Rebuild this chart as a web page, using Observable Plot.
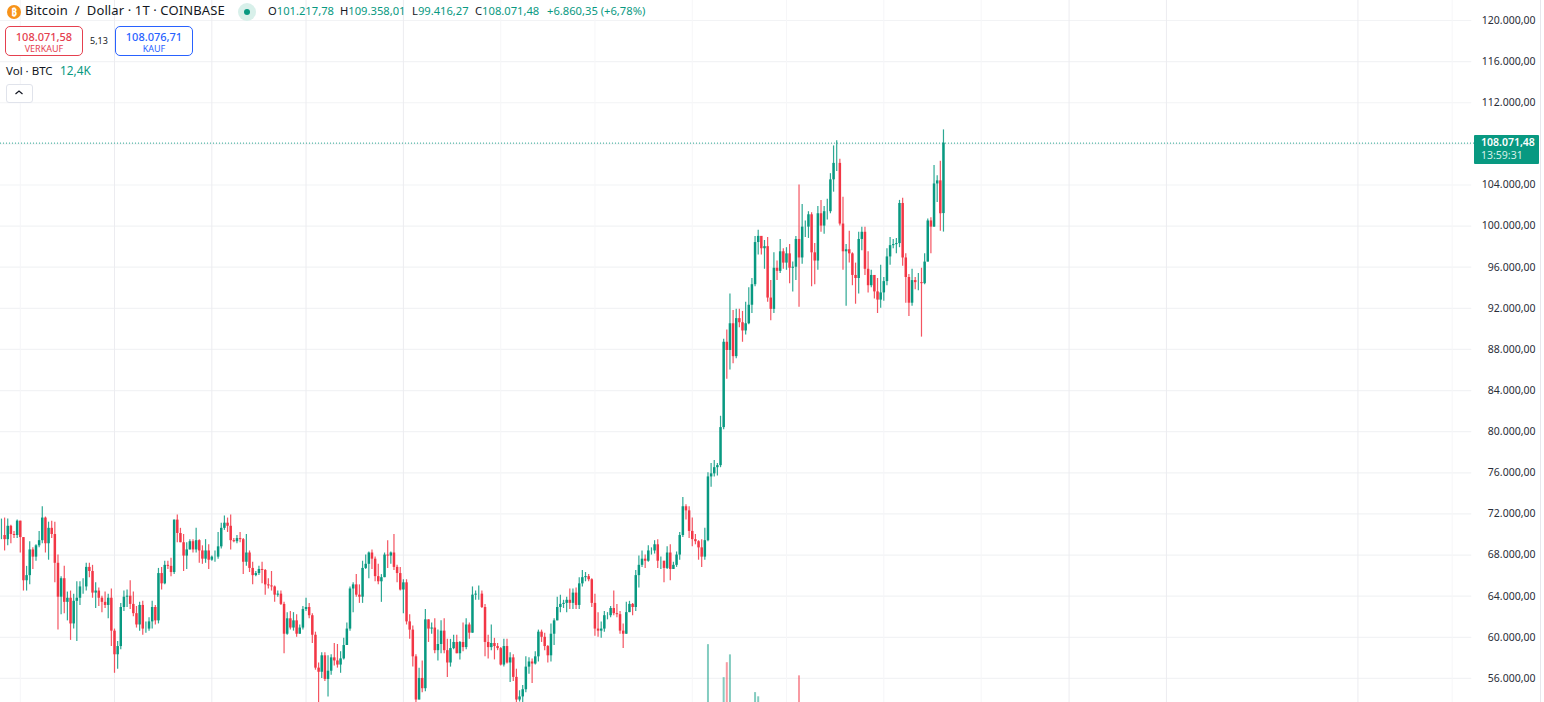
<!doctype html>
<html><head><meta charset="utf-8">
<script src="https://cdn.jsdelivr.net/npm/d3@7"></script>
<script src="https://cdn.jsdelivr.net/npm/@observablehq/plot@0.6"></script>
<style>
html,body{margin:0;padding:0;background:#fff;overflow:hidden;width:1544px;height:702px}
body{position:relative;font-family:"Noto Sans",sans-serif;color:#131722}
#chart{position:absolute;left:0;top:0}
#chart svg{display:block}
.o{position:absolute;white-space:nowrap;line-height:1}
.g{color:#089981}
.btn{position:absolute;top:26px;width:76px;height:28px;border-radius:5px;background:#fff;text-align:center;border:1px solid}
.btn b{display:block;font-weight:500;font-size:11px;margin-top:3px;line-height:14px}
.btn i{display:block;font-style:normal;font-size:9px;line-height:10px}
</style></head><body>
<div id="chart"></div>
<script>
const firstDay = "2024-03-26";
const opens = [69.9,69.9,69.5,70.8,70.0,69.9,
71.3,69.7,65.5,66.0,68.5,67.8,68.9,69.4,71.6,69.1,70.6,70.0,67.2,63.9,65.7,63.4,63.8,61.3,63.5,63.8,64.9,64.9,66.8,66.4,64.3,64.5,63.8,63.4,63.1,63.8,
60.6,58.3,59.1,62.9,63.9,64.0,63.2,62.3,61.2,63.1,60.8,60.8,61.5,62.9,61.6,66.2,65.2,67.0,66.9,66.3,71.4,70.1,69.2,67.9,68.5,69.3,68.5,69.4,68.4,67.6,68.4,
67.5,67.8,67.8,68.8,70.6,71.1,70.8,69.4,69.3,69.6,69.5,67.3,68.2,66.7,66.0,66.2,66.6,66.5,65.1,65.0,64.9,64.1,64.2,63.2,60.3,61.8,60.9,61.6,60.3,60.9,
62.7,62.9,62.1,60.2,57.0,56.6,58.2,55.9,56.7,58.0,57.7,57.3,57.9,59.2,60.8,64.7,65.1,64.1,63.9,66.7,67.1,68.2,67.6,65.9,65.4,65.8,68.0,67.9,68.2,66.8,66.2,
64.6,65.3,61.5,60.7,58.1,53.9,56.0,55.0,61.7,60.8,60.9,58.7,59.3,60.6,58.7,57.5,58.9,59.5,58.4,59.5,59.0,61.2,60.4,64.1,64.2,64.2,62.9,59.5,59.0,59.4,59.1,
58.9,57.3,59.1,57.5,58.0,56.1,53.9,54.2,54.9,57.1,57.6,57.4,58.1,60.5,60.0,59.1,58.2,60.3,61.6,62.9,63.2,63.3,63.6,63.3,64.3,63.1,65.2,65.8,65.9,65.6,
63.3,60.8,60.6,60.8,62.1,62.1,62.8,62.3,62.2,60.6,60.3,62.4,63.2,62.9,66.0,67.0,67.6,67.4,68.4,68.4,69.0,67.4,67.4,66.7,68.2,66.6,67.0,68.0,69.9,72.7,72.3,
70.3,69.5,69.3,68.7,67.8,69.4,75.6,75.9,76.5,76.7,80.4,88.7,87.9,90.5,87.3,91.0,90.6,89.8,90.5,92.3,94.3,98.4,99.0,97.8,98.0,93.0,91.9,95.9,95.6,97.5,
96.4,97.3,95.9,96.0,98.7,96.9,99.9,99.9,101.1,97.4,96.6,101.2,100.0,101.4,101.4,104.5,106.1,106.1,100.2,97.5,97.7,97.3,95.2,94.9,98.7,99.4,95.8,94.2,95.2,93.6,92.8,
93.5,94.6,97.0,98.1,98.2,98.3,102.2,96.9,95.0,92.5,94.7,94.5,94.5,94.4,96.5,100.5,99.9,104.1,104.4,101.218];
const highs = [71.5,71.6,71.5,70.9,70.3,71.4,
71.3,69.7,66.9,69.3,68.7,69.0,70.3,72.7,71.7,71.2,71.3,71.2,68.0,65.9,66.9,64.4,64.5,64.2,65.4,65.4,65.7,67.2,67.2,67.0,65.3,64.8,64.0,64.4,64.2,64.7,
60.8,59.6,63.3,64.5,64.6,65.5,64.4,63.0,63.4,63.5,61.5,61.9,63.5,63.1,66.7,66.8,67.4,67.4,67.7,71.4,71.9,70.6,70.0,69.2,69.5,69.5,70.6,69.5,68.9,69.5,69.0,
67.9,68.4,70.2,71.1,71.8,71.6,71.9,69.6,69.9,70.2,69.6,70.0,68.4,67.3,66.4,66.9,67.3,66.6,65.7,66.4,65.0,64.5,64.5,63.4,62.4,62.5,62.4,62.2,61.2,63.0,
63.8,63.3,62.3,60.5,57.5,58.5,58.5,58.2,58.3,59.4,59.3,58.6,59.9,61.4,64.9,65.3,66.1,65.1,67.4,68.0,68.3,68.5,67.8,67.1,66.1,68.2,69.4,68.3,70.0,67.0,66.8,
65.6,65.6,62.2,61.1,58.3,57.0,57.7,62.7,61.7,61.4,61.8,60.7,61.6,61.8,59.8,59.8,60.2,60.2,59.6,61.4,61.8,61.4,64.9,64.5,65.0,64.5,63.2,60.2,61.2,59.9,59.4,
59.0,59.8,59.8,58.5,58.3,56.9,54.8,55.3,58.1,58.0,57.9,58.6,60.7,60.7,60.4,59.2,61.3,61.8,63.9,64.1,63.6,63.9,64.7,64.7,64.8,65.8,66.5,66.3,66.1,65.7,
64.2,62.4,61.5,62.5,62.4,63.0,64.5,63.2,62.5,61.3,63.4,63.5,63.3,66.5,67.9,68.4,68.0,68.9,68.7,69.4,69.5,67.8,67.4,68.8,69.0,67.3,68.3,70.2,73.6,72.9,72.7,
71.6,70.0,69.4,69.5,70.6,76.0,76.9,77.2,76.9,81.5,89.0,89.9,93.4,91.8,91.9,91.9,91.7,92.6,94.0,94.9,99.0,99.6,99.0,98.6,98.9,94.7,97.4,96.6,98.7,97.8,
97.9,98.2,96.5,99.0,104.0,102.1,100.5,101.4,101.3,98.3,101.9,102.5,101.9,102.6,105.1,107.8,108.3,106.5,102.8,98.2,99.5,97.4,96.4,99.4,99.9,99.9,97.5,95.7,95.2,94.9,96.2,
95.0,97.8,98.9,98.7,98.8,102.5,102.7,97.3,95.3,95.8,95.0,95.4,95.9,97.3,100.7,100.8,105.9,104.9,106.3,109.358];
const lows = [69.5,68.4,68.9,69.1,69.6,69.6,
68.2,64.5,64.5,65.1,66.6,67.4,68.7,69.1,68.2,67.5,69.6,65.3,60.7,62.2,62.3,61.6,59.7,60.8,59.6,63.1,64.2,64.5,65.8,63.8,62.8,63.0,62.4,62.8,61.8,59.1,
56.5,56.9,58.8,62.5,62.9,62.7,62.0,60.9,60.6,60.2,60.4,60.6,60.8,61.2,61.3,64.6,65.1,66.6,65.9,66.1,69.2,69.2,66.4,66.6,68.5,68.2,68.2,67.2,67.1,67.2,66.6,
67.4,67.3,67.6,68.6,70.4,70.2,68.5,69.2,69.1,69.2,66.1,66.9,66.3,65.1,65.9,66.0,65.2,64.1,64.7,64.5,63.4,63.9,63.1,58.4,60.2,60.7,60.6,60.0,60.3,60.7,
62.5,61.8,59.4,56.8,53.5,56.0,55.7,54.2,56.3,57.2,57.0,56.5,57.8,59.2,60.6,62.4,63.9,63.3,63.3,66.6,65.7,66.6,65.4,65.1,63.4,65.8,66.7,67.1,66.5,65.3,64.5,
62.3,61.2,59.8,57.1,49.0,53.9,54.6,54.7,59.5,60.3,58.4,57.7,58.4,58.4,56.1,57.1,58.8,58.4,57.8,58.6,58.8,59.8,60.4,63.6,63.6,62.8,58.1,57.9,58.7,57.8,58.7,
57.2,57.1,57.4,55.6,55.7,52.5,53.7,53.6,54.6,56.4,55.5,57.3,57.6,59.5,58.7,57.5,57.6,59.2,61.6,62.4,62.8,62.4,62.7,62.7,62.7,62.7,64.9,65.4,65.4,62.9,
60.1,60.0,59.9,60.5,61.7,61.9,62.1,61.9,60.3,58.9,60.3,62.4,62.1,62.5,64.8,66.8,66.7,67.3,68.0,68.1,66.7,66.6,65.3,66.6,65.5,66.6,66.8,67.5,69.7,71.4,69.6,
68.8,69.0,67.5,66.8,67.5,69.3,74.6,75.6,75.7,76.5,80.2,85.1,86.0,86.6,87.1,90.1,88.7,89.4,90.4,91.5,94.1,97.2,97.2,95.8,92.6,90.8,91.5,94.7,95.4,95.8,
95.7,94.4,93.6,94.7,92.1,96.3,98.9,98.8,94.1,94.3,95.7,99.4,99.2,100.6,101.2,103.3,105.3,100.0,95.7,92.2,96.4,94.2,92.4,93.4,97.6,95.2,93.5,94.0,92.9,91.5,92.0,
92.7,94.2,96.2,97.8,97.3,97.9,96.1,92.5,91.2,92.2,93.8,93.7,89.2,94.3,96.5,97.3,99.9,102.3,99.5,99.416];
const closes = [69.9,69.5,70.8,70.0,69.9,71.3,
69.7,65.5,66.0,68.5,67.8,68.9,69.4,71.6,69.1,70.6,70.0,67.2,63.9,65.7,63.4,63.8,61.3,63.5,63.8,64.9,64.9,66.8,66.4,64.3,64.5,63.8,63.4,63.1,63.8,60.6,
58.3,59.1,62.9,63.9,64.0,63.2,62.3,61.2,63.1,60.8,60.8,61.5,62.9,61.6,66.2,65.2,67.0,66.9,66.3,71.4,70.1,69.2,67.9,68.5,69.3,68.5,69.4,68.4,67.6,68.4,67.5,
67.8,67.8,68.8,70.6,71.1,70.8,69.4,69.3,69.6,69.5,67.3,68.2,66.7,66.0,66.2,66.6,66.5,65.1,65.0,64.9,64.1,64.2,63.2,60.3,61.8,60.9,61.6,60.3,60.9,62.7,
62.9,62.1,60.2,57.0,56.6,58.2,55.9,56.7,58.0,57.7,57.3,57.9,59.2,60.8,64.7,65.1,64.1,63.9,66.7,67.1,68.2,67.6,65.9,65.4,65.8,68.0,67.9,68.2,66.8,66.2,64.6,
65.3,61.5,60.7,58.1,53.9,56.0,55.0,61.7,60.8,60.9,58.7,59.3,60.6,58.7,57.5,58.9,59.5,58.4,59.5,59.0,61.2,60.4,64.1,64.2,64.2,62.9,59.5,59.0,59.4,59.1,58.9,
57.3,59.1,57.5,58.0,56.1,53.9,54.2,54.9,57.1,57.6,57.4,58.1,60.5,60.0,59.1,58.2,60.3,61.6,62.9,63.2,63.3,63.6,63.3,64.3,63.1,65.2,65.8,65.9,65.6,63.3,
60.8,60.6,60.8,62.1,62.1,62.8,62.3,62.2,60.6,60.3,62.4,63.2,62.9,66.0,67.0,67.6,67.4,68.4,68.4,69.0,67.4,67.4,66.7,68.2,66.6,67.0,68.0,69.9,72.7,72.3,70.3,
69.5,69.3,68.7,67.8,69.4,75.6,75.9,76.5,76.7,80.4,88.7,87.9,90.5,87.3,91.0,90.6,89.8,90.5,92.3,94.3,98.4,99.0,97.8,98.0,93.0,91.9,95.9,95.6,97.5,96.4,
97.3,95.9,96.0,98.7,96.9,99.9,99.9,101.1,97.4,96.6,101.2,100.0,101.4,101.4,104.5,106.1,106.1,100.2,97.5,97.7,97.3,95.2,94.9,98.7,99.4,95.8,94.2,95.2,93.6,92.8,93.5,
94.6,97.0,98.1,98.2,98.3,102.2,96.9,95.0,92.5,94.7,94.5,94.5,94.4,96.5,100.5,99.9,104.1,104.4,101.2,108.071];

// Only the volume bars that reach into the visible window (thousand BTC)
const volumeDays = ["2024-11-06","2024-11-11","2024-11-12","2024-11-13","2024-11-21","2024-11-22","2024-12-05"];
const volumeK    = [54.3,30.7,41.4,47,20,17,32];
const volumeUp   = [true,true,false,true,true,true,false];

const priceTicks = [56,60,64,68,72,76,80,84,88,92,96,100,104,108,112,116,120].map(v => v * 1000);
const axisTicks = priceTicks.filter(v => v !== 108000);
const faintMonths = ["2024-04-01","2024-09-01","2024-10-01","2024-11-01","2024-12-01","2025-01-01","2025-02-01","2025-07-01"].map(d => new Date(d));
const plainMonths = ["2024-05-01","2024-06-01","2024-07-01","2024-08-01","2025-03-01","2025-04-01","2025-06-01"].map(d => new Date(d));
const lastPrice = 108071.48;

const UP = "#089981", DOWN = "#f23645", GRID = "#f2f3f5";
const start = new Date(firstDay);
const viewStart = new Date("2024-03-25T16:40:00Z"), viewEnd = new Date("2025-07-08T18:06:00Z");
const candles = closes.map((c, i) => ({
  date: d3.utcDay.offset(start, i),
  o: opens[i] * 1000, h: highs[i] * 1000, l: lows[i] * 1000, c: c * 1000,
  color: c >= opens[i] ? UP : DOWN
}));
// volume pane baseline and scale, expressed in price units of the shared y scale
const volBase = 51900, volUnit = 136;
const vols = volumeDays.map((d, i) => ({date: new Date(d), top: volBase + volumeK[i] * volUnit, color: volumeUp[i] ? UP : DOWN}));
const deFmt = new Intl.NumberFormat("de-DE", {minimumFractionDigits: 2, maximumFractionDigits: 2});

const plot = Plot.plot({
  width: 1544, height: 702,
  marginLeft: 0, marginTop: 0, marginBottom: 0, marginRight: 68,
  style: {background: "#fff", fontFamily: '"Noto Sans",sans-serif'},
  x: {type: "utc", domain: [viewStart, viewEnd], range: [0, 1476], axis: null},
  y: {domain: [53658, 121945], range: [702, 0], axis: null},
  marks: [
    Plot.ruleY(priceTicks, {stroke: GRID, strokeWidth: 1.2, x1: viewStart, x2: new Date("2025-07-07T06:00:00Z")}),
    Plot.ruleX(faintMonths, {stroke: "#f6f6f8", strokeWidth: 1}),
    Plot.ruleX(plainMonths, {stroke: "#ececf0", strokeWidth: 1}),
    Plot.axisY({anchor: "right", ticks: axisTicks, tickSize: 0, tickPadding: 0, dx: 59, textAnchor: "end",
      tickFormat: v => deFmt.format(v), label: null, fontSize: 10.5, fill: "#2a2e39"}),
    Plot.ruleX(vols, {x: "date", y1: volBase, y2: "top", stroke: "color", strokeWidth: 2, strokeOpacity: 0.5}),
    Plot.ruleY([lastPrice], {stroke: UP, strokeWidth: 1, strokeDasharray: "1,2", strokeOpacity: 0.85}),
    Plot.ruleX(candles, {x: "date", y1: "l", y2: "h", stroke: "color", strokeWidth: 1.2, strokeOpacity: 0.85}),
    Plot.ruleX(candles, {x: "date", y1: "o", y2: "c", stroke: "color", strokeWidth: 2.5})
  ]
});
document.getElementById("chart").append(plot);

function add(html){ document.body.insertAdjacentHTML("beforeend", html); }
add(`<div class="o" style="left:1540px;top:0;width:1px;height:702px;background:#e6e7ec"></div>`);
add(`<div class="o" style="left:1474px;top:135px;width:65px;height:29px;background:#089981;border-radius:1px"></div>`);
add(`<div class="o" style="left:1481px;top:137px;font-size:10.5px;font-weight:600;color:#fff">108.071,48</div>`);
add(`<div class="o" style="left:1481px;top:150px;font-size:10.5px;color:#d5f0ea">13:59:31</div>`);
add(`<div class="o" style="left:7px;top:5px;width:14px;height:14px;border-radius:50%;background:#f7931a;color:#fff;font-size:10px;text-align:center;line-height:14px;font-weight:700">₿</div>`);
add(`<div class="o" style="left:25px;top:4px;font-size:13px;letter-spacing:.12px">Bitcoin &nbsp;/ &nbsp;Dollar · 1T · COINBASE</div>`);
add(`<div class="o" style="left:238px;top:3px;width:18px;height:18px;border-radius:50%;background:#d8f0ea"></div>`);
add(`<div class="o" style="left:244px;top:9px;width:6px;height:6px;border-radius:50%;background:#089981"></div>`);
const ohlcRow = [["O","101.217,78",268],["H","109.358,01",340],["L","99.416,27",412],["C","108.071,48",475],["","+6.860,35 (+6,78%)",547]];
ohlcRow.forEach(([k,v,left]) => add(`<div class="o" style="left:${left}px;top:5px;font-size:11.2px">${k}<span class="g">${v}</span></div>`));
add(`<div class="btn" style="left:5px;border-color:#e5404f;color:#e5404f"><b>108.071,58</b><i>VERKAUF</i></div>`);
add(`<div class="o" style="left:90px;top:36px;font-size:9px">5,13</div>`);
add(`<div class="btn" style="left:115px;border-color:#2962ff;color:#2962ff"><b>108.076,71</b><i>KAUF</i></div>`);
add(`<div class="o" style="left:6px;top:65px;font-size:11.5px">Vol · BTC</div>`);
add(`<div class="o g" style="left:60px;top:65px;font-size:11.8px">12,4K</div>`);
add(`<div class="o" style="left:6px;top:84px;width:25px;height:17px;border:1px solid #e0e3eb;border-radius:3px;background:#fff"></div>`);
add(`<svg class="o" style="left:14px;top:89px" width="10" height="7"><path d="M1.5 5 L5 2 L8.5 5" fill="none" stroke="#131722" stroke-width="1.2"/></svg>`);
</script>
</body></html>
